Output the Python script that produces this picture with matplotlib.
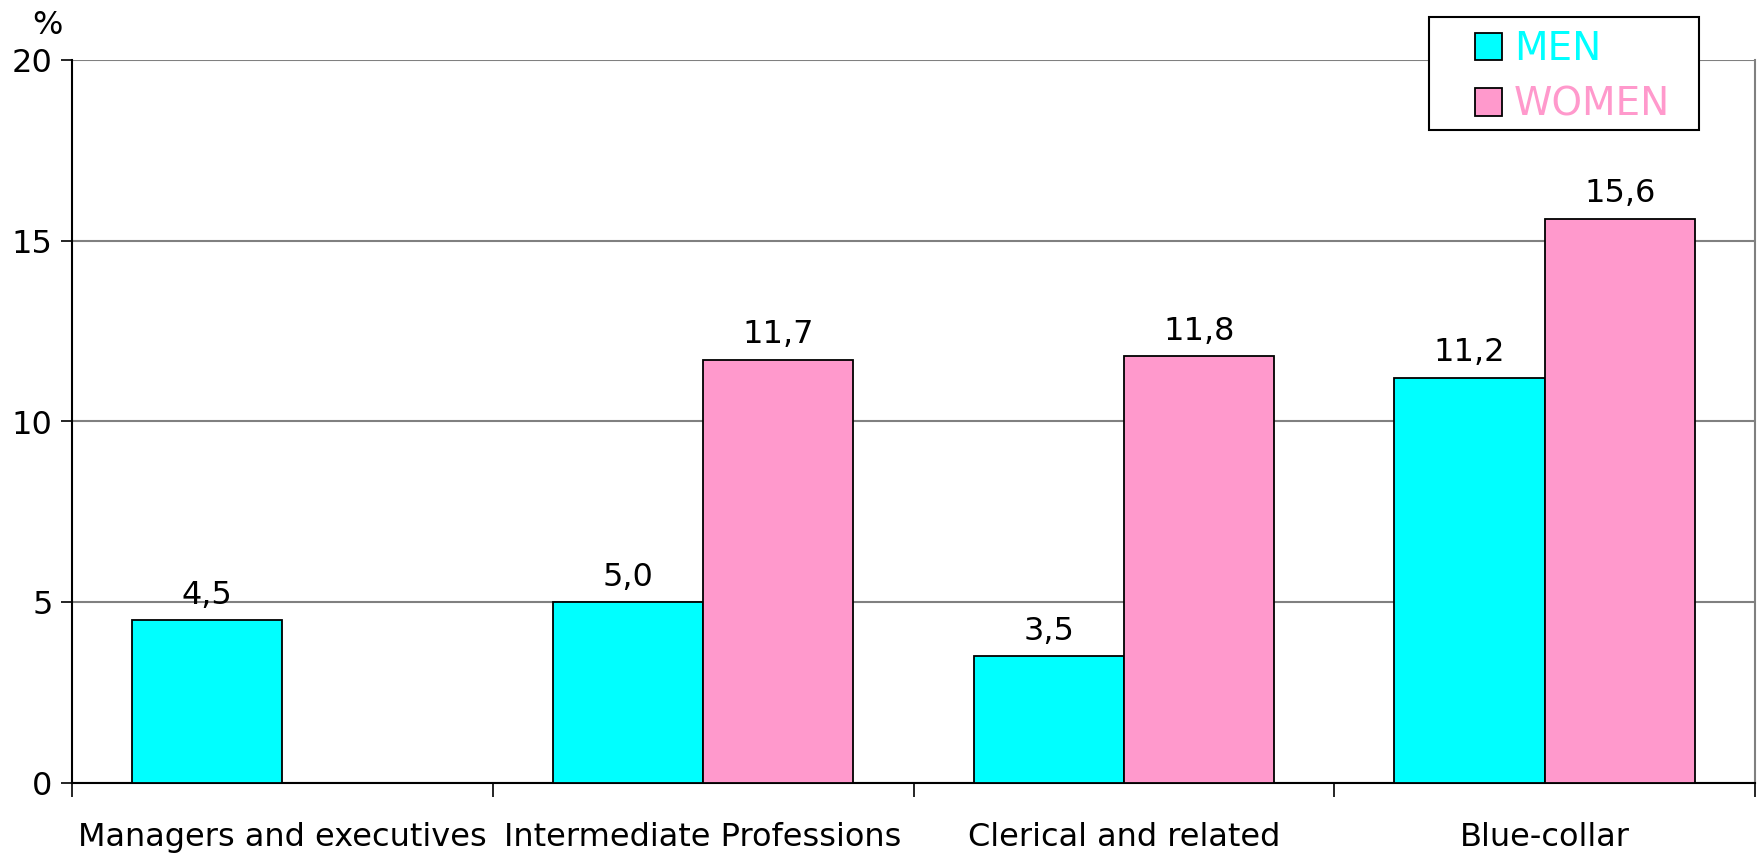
import matplotlib
matplotlib.use("Agg")
import matplotlib.pyplot as plt
from matplotlib.patches import Rectangle
import numpy as np

categories = ["Managers and executives", "Intermediate Professions",
              "Clerical and related", "Blue-collar"]
men = [4.5, 5.0, 3.5, 11.2]
women = [np.nan, 11.7, 11.8, 15.6]
series_names = ["MEN", "WOMEN"]
colors = ["#00FFFF", "#FF99CC"]

plt.rcParams["font.family"] = ["DejaVu Sans"]

fig = plt.figure(figsize=(17.59, 8.55), dpi=100)
ax = fig.add_axes([72 / 1759, 1 - 783 / 855, (1755 - 72) / 1759, (783 - 60) / 855])

x = np.arange(len(categories))
w = 1 / 2.8
b1 = ax.bar(x - w / 2, men, w, color=colors[0], edgecolor="black", linewidth=1.3,
            label=series_names[0], zorder=3)
b2 = ax.bar(x + w / 2, women, w, color=colors[1], edgecolor="black", linewidth=1.3,
            label=series_names[1], zorder=3)

for bars, vals in [(b1, men), (b2, women)]:
    for r, v in zip(bars, vals):
        if np.isnan(v):
            continue
        ax.annotate(f"{v:.1f}".replace(".", ","), (r.get_x() + r.get_width() / 2, v),
                    xytext=(0, 7), textcoords="offset points",
                    ha="center", va="bottom", fontsize=23)

ax.set_xlim(-0.5, len(categories) - 0.5)
ax.set_ylim(0, 20)
ax.set_yticks([0, 5, 10, 15, 20])
ax.yaxis.grid(True, color="#808080", linewidth=1.5, zorder=0)
ax.set_axisbelow(True)

ax.set_xticks(np.arange(len(categories) + 1) - 0.5)
ax.set_xticklabels([])
ax.set_xticks(x, minor=True)
ax.set_xticklabels(categories, minor=True, fontsize=23)
ax.tick_params(axis="x", which="major", direction="out", length=10, width=1.2)
ax.tick_params(axis="x", which="minor", length=0, pad=28)
ax.tick_params(axis="y", direction="out", length=8, width=1.2, labelsize=23, pad=6)

for s in ["left", "bottom"]:
    ax.spines[s].set_color("black")
    ax.spines[s].set_linewidth(1.5)
ax.spines["top"].set_visible(False)
ax.spines["right"].set_color("#808080")
ax.spines["right"].set_linewidth(1.5)

fig.text(47 / 1759, 1 - 26 / 855, "%", fontsize=23, ha="center", va="center")

# legend box drawn separately so the entries can sit off-centre like the original
box = Rectangle((1429 / 1759, 1 - 130 / 855), (1699 - 1429) / 1759, (130 - 17) / 855,
                transform=fig.transFigure, facecolor="white", edgecolor="black",
                linewidth=1.5, zorder=9)
fig.patches.append(box)

leg = fig.legend(handles=[b1, b2], labels=series_names, loc="upper left",
                 bbox_to_anchor=(1467 / 1759, 1 - 22 / 855), fontsize=28,
                 frameon=False, handlelength=0.7, handleheight=0.7,
                 handletextpad=0.3, borderpad=0.2, labelspacing=0.46,
                 borderaxespad=0)
leg.set_zorder(10)
for t, c in zip(leg.get_texts(), colors):
    t.set_color(c)

fig.savefig("out.png", dpi=100, facecolor="white")
